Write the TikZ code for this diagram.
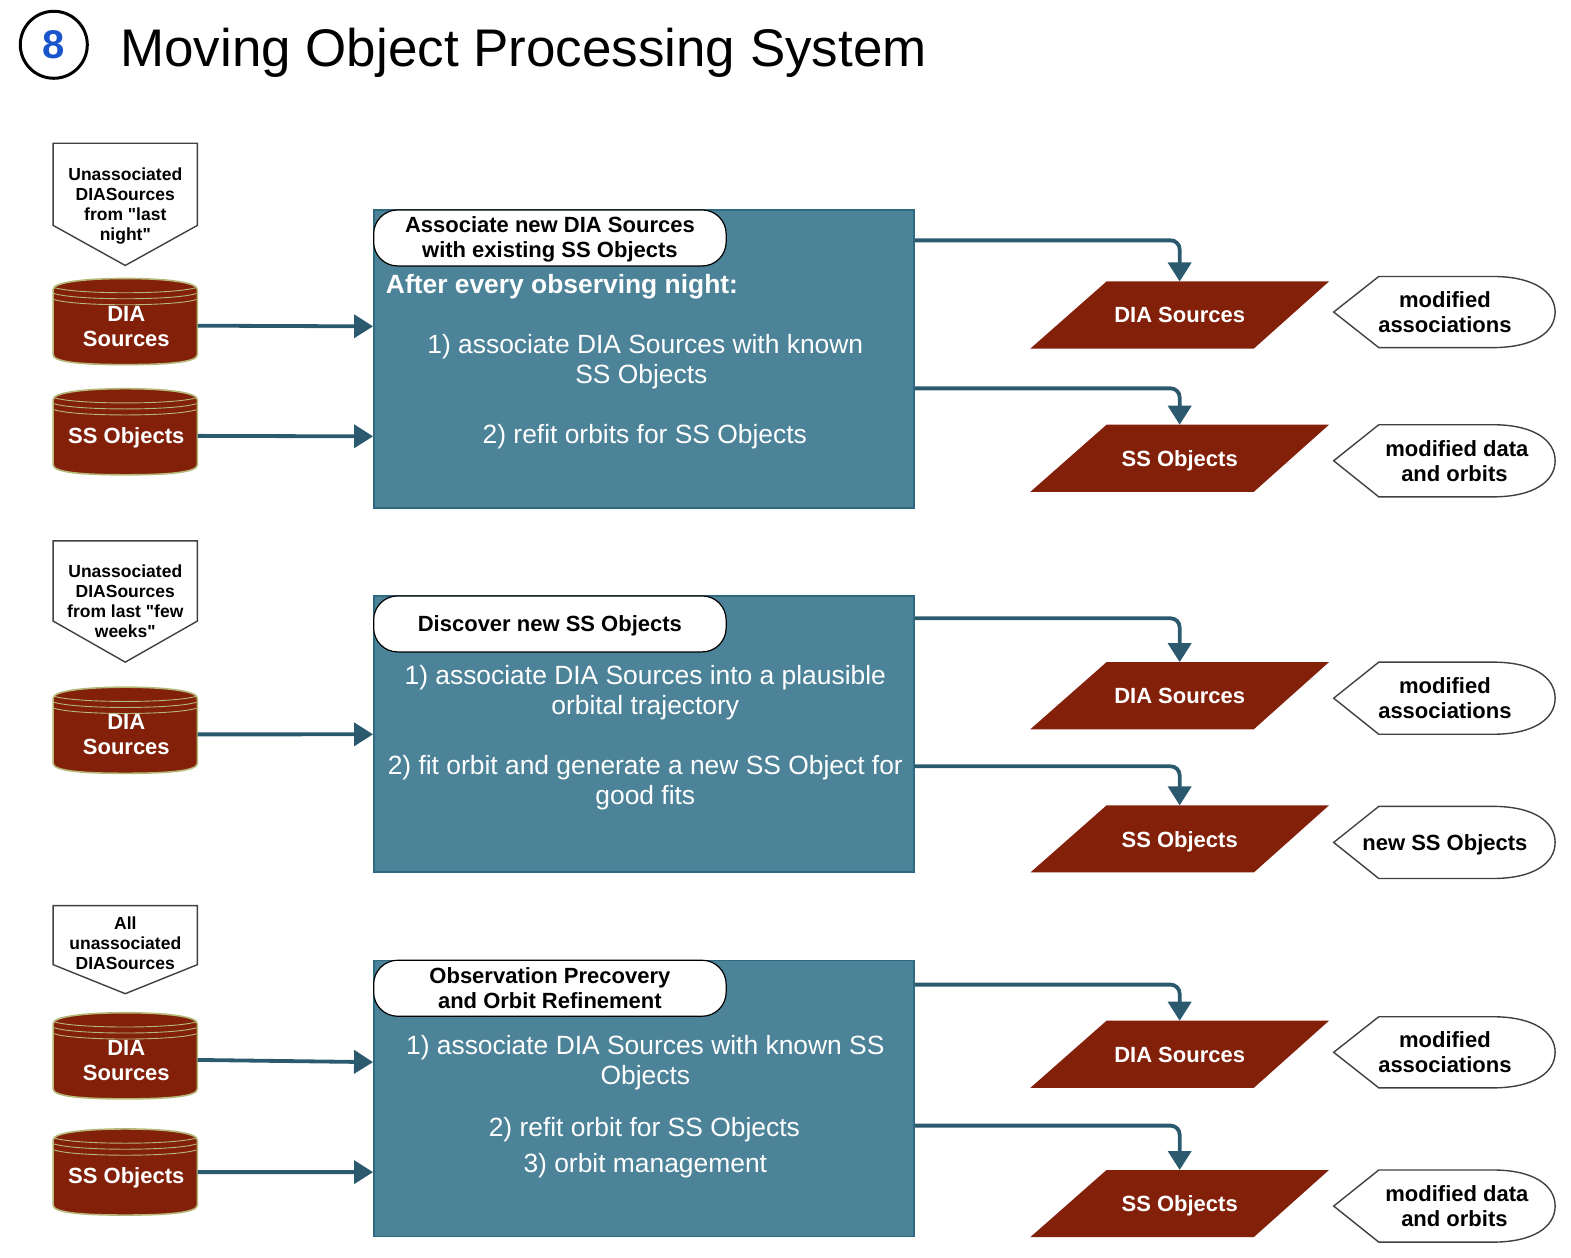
\documentclass[tikz,border=0pt]{standalone}
\usepackage{fontspec}
\setmainfont{Liberation Sans}
\newfontfamily\plainfam{Liberation Sans}
\newcommand{\qmark}{{\plainfam"}}
\usetikzlibrary{arrows.meta}
\definecolor{boxblue}{HTML}{4C8398}
\definecolor{boxedge}{HTML}{2F6B80}
\definecolor{arrowblue}{HTML}{2B5A6E}
\definecolor{darkred}{HTML}{82200A}
\definecolor{cyledge}{HTML}{B5B878}
\definecolor{eightblue}{HTML}{1A55CC}
\tikzset{
  x=1.002pt,y=-1.0017pt,
  procbox/.style={draw=boxedge,fill=boxblue,line width=1.8pt,minimum width=540pt,inner sep=0pt,anchor=north west},
  pill/.style={draw=black,fill=white,line width=1.2pt,rounded corners=24pt,minimum width=352.5pt,minimum height=56pt,inner sep=0pt,anchor=north west},
  pilltext/.style={text=black,align=center,inner sep=0pt,font=\fontsize{22}{25}\selectfont\bfseries},
  bodytext/.style={text=white,align=center,inner sep=0pt,font=\fontsize{26.4}{30}\selectfont},
  headtext/.style={text=white,inner sep=0pt,anchor=west,font=\fontsize{26.4}{30}\selectfont\bfseries},
  cyllabel/.style={text=white,align=center,inner sep=0pt,minimum width=146pt,minimum height=85pt,anchor=north west,font=\fontsize{22}{25}\selectfont\bfseries},
  paralabel/.style={text=white,inner sep=0pt,minimum width=297pt,minimum height=67pt,text depth=0pt,anchor=north,font=\fontsize{22}{25}\selectfont\bfseries},
  pentlabel/.style={text=black,align=center,inner sep=0pt,minimum width=144pt,anchor=north west,font=\fontsize{17.5}{20}\selectfont\bfseries},
  calllabel/.style={text=black,align=center,inner sep=0pt,font=\fontsize{22}{25}\selectfont\bfseries},
  conn/.style={draw=arrowblue,line width=3.8pt,rounded corners=9pt,-{Triangle[length=19pt,width=23pt]}},
  pentline/.style={draw=black!75,fill=white,line width=1.4pt,line join=miter},
  cylbody/.style={draw=cyledge,fill=darkred,line width=1.6pt},
  cylring/.style={draw=cyledge,line width=0.9pt},
}
% name, top y, shoulder y, tip y, label y, text
\newcommand{\pentshape}[6]{%
  \path[pentline] (53,#2) -- (197,#2) -- (197,#3) -- (125,#4) -- (53,#3) -- cycle;
  \node[pentlabel] (#1) at (53,#5) {#6};
}
% name, top y, label offset, label
\newcommand{\cylshape}[4]{%
  \path[cylbody] (53,#2+11) .. controls (53,#2+3) and (90,#2) .. (125,#2) .. controls (160,#2) and (197,#2+3) .. (197,#2+11)
    -- (197,#2+76) .. controls (197,#2+84) and (165,#2+86) .. (125,#2+86) .. controls (85,#2+86) and (53,#2+84) .. (53,#2+76) -- cycle;
  \foreach \d in {9,15,21} {
    \draw[cylring] (54,#2+\d) .. controls (75,#2+\d+7) and (175,#2+\d+7) .. (196,#2+\d);
  }
  \node[cyllabel] (#1) at (53,#2+#3) {#4};
}
% name, top y, label
\newcommand{\parashape}[3]{%
  \fill[darkred] (1104.3,#2) -- (1326.3,#2) -- (1251.3,#2+67) -- (1028.3,#2+67) -- cycle;
  \node[paralabel] (#1) at (1177.3,#2) {#3};
}
% name, top y, bottom y, text x, text
\newcommand{\callshape}[5]{%
  \path[pentline] (1331,#2/2+#3/2) -- (1376,#2) -- (1490,#2) .. controls (1530,#2) and (1552,#2+15) .. (1552,#2/2+#3/2)
    .. controls (1552,#3-15) and (1530,#3) .. (1490,#3) -- (1376,#3) -- cycle;
  \node[calllabel] (#1) at (#4,#2/2+#3/2) {#5};
}
\begin{document}
\begin{tikzpicture}
\useasboundingbox (0,0) rectangle (1567.86,1255.86);
% title
\node[draw=black,line width=3pt,circle,minimum size=67pt,inner sep=0pt,text=eightblue,font=\fontsize{40}{40}\selectfont\bfseries] (badge) at (53.7,44.7) {8};
\node[anchor=west,inner sep=0pt,font=\fontsize{52.95}{56}\selectfont] (title) at (120,52.5) {Moving Object Processing System};
% process boxes
\node[procbox,minimum height=298pt] (box1) at (372.3,209) {};
\node[procbox,minimum height=276pt] (box2) at (372.3,594.3) {};
\node[procbox,minimum height=276pt] (box3) at (372.3,958) {};
\node[pill] (pill1) at (372.3,209) {};
\node[pill] (pill2) at (372.3,594.3) {};
\node[pill] (pill3) at (372.3,958) {};
\node[pilltext] (pt1) at ([yshift=-1pt]pill1.center) {Associate new DIA Sources\\with existing SS Objects};
\node[pilltext] (pt2) at ([yshift=-2pt]pill2.center) {Discover new SS Objects};
\node[pilltext] (pt3) at (pill3.center) {Observation Precovery\\and Orbit Refinement};
% box texts
\node[headtext] (h1) at (385,286) {After every observing night:};
\node[bodytext] (t11) at (644,361.3) {1) associate DIA Sources with known\\SS Objects\hspace*{8pt}};
\node[bodytext] (t12) at (643.5,436) {2) refit orbits for SS Objects};
\node[bodytext] (t21) at (644,691) {1) associate DIA Sources into a plausible\\orbital trajectory};
\node[bodytext] (t22) at (644,781) {2) fit orbit and generate a new SS Object for\\good fits};
\node[bodytext] (t31) at (644,1061) {1) associate DIA Sources with known SS\\Objects};
\node[bodytext] (t32) at (643,1128) {2) refit orbit for SS Objects};
\node[bodytext] (t33) at (644,1164) {3) orbit management};
% inputs
\pentshape{n1}{143}{225}{265}{167}{Unassociated\\DIASources\\from \qmark last\\night\qmark}
\pentshape{n2}{540}{620}{661}{564}{Unassociated\\DIASources\\from last \qmark few\\weeks\qmark}
\pentshape{n3}{904}{963}{992}{915.5}{All\\unassociated\\DIASources}
\cylshape{c1}{278}{5}{DIA\\Sources}
\cylshape{c2}{388}{6}{SS Objects}
\cylshape{c3}{686}{5}{DIA\\Sources}
\cylshape{c4}{1011}{5.5}{DIA\\Sources}
\cylshape{c5}{1127}{6}{SS Objects}
% outputs
\parashape{p1}{281}{DIA Sources}
\parashape{p2}{424}{SS Objects}
\parashape{p3}{661}{DIA Sources}
\parashape{p4}{804}{SS Objects}
\parashape{p5}{1019}{DIA Sources}
\parashape{p6}{1168}{SS Objects}
\callshape{m1}{276}{347}{1442}{modified\\associations}
\callshape{m2}{424}{496}{1454}{modified data\\and orbits\hspace*{5pt}}
\callshape{m3}{661}{733}{1442}{modified\\associations}
\callshape{m4}{805}{877}{1442}{\raisebox{0pt}[16pt][0pt]{new SS Objects}}
\callshape{m5}{1015}{1086}{1442}{modified\\associations}
\callshape{m6}{1168}{1240}{1454}{modified data\\and orbits\hspace*{5pt}}
% connectors in
\draw[conn] ([xshift=-2pt,yshift=0.5pt]c1.east) -- ([yshift=-117pt]box1.north west);
\draw[conn] ([xshift=-2pt,yshift=1.5pt]c2.east) -- ([yshift=-227pt]box1.north west);
\draw[conn] ([xshift=-2pt,yshift=0.5pt]c3.east) -- ([yshift=-139pt]box2.north west);
\draw[conn] ([xshift=-2pt,yshift=1pt]c4.east) -- ([yshift=-102.5pt]box3.north west);
\draw[conn] ([xshift=-2pt,yshift=5.5pt]c5.east) -- ([yshift=-212.5pt]box3.north west);
% connectors out
\draw[conn] ([yshift=-31pt]box1.north east) -| (p1.north);
\draw[conn] ([yshift=-179pt]box1.north east) -| (p2.north);
\draw[conn] ([yshift=-23pt]box2.north east) -| (p3.north);
\draw[conn] ([yshift=-171pt]box2.north east) -| (p4.north);
\draw[conn] ([yshift=-25pt]box3.north east) -| (p5.north);
\draw[conn] ([yshift=-166pt]box3.north east) -| (p6.north);
\end{tikzpicture}
\end{document}
